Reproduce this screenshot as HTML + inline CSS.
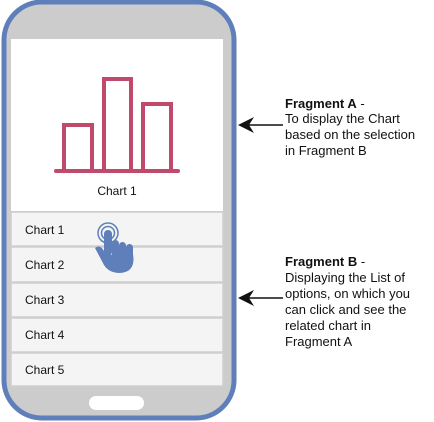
<!DOCTYPE html>
<html><head><style>
body{margin:0;background:#fff;}
svg{display:block;font-family:"Liberation Sans",Arial,sans-serif;}
</style></head><body>
<svg width="434" height="422" viewBox="0 0 434 422" xmlns="http://www.w3.org/2000/svg">
<rect x="4" y="2" width="230" height="416" rx="38" fill="#cccccd" stroke="#5f7fba" stroke-width="5"/>
<rect x="11" y="39" width="212" height="172" fill="#fff"/>
<g fill="none" stroke="#c04a6b" stroke-width="4">
<rect x="64" y="125" width="28" height="46"/>
<rect x="104" y="79" width="27" height="92"/>
<rect x="143" y="104" width="28" height="67"/>
<line x1="56" y1="171" x2="178" y2="171" stroke-linecap="round"/>
</g>
<text x="117" y="195" font-size="12" text-anchor="middle" fill="#111">Chart 1</text>
<g fill="#f4f4f4" stroke="#cfcfcf" stroke-width="1.5">
<rect x="11" y="212" width="212" height="34"/>
<rect x="11" y="247" width="212" height="35"/>
<rect x="11" y="283" width="212" height="34"/>
<rect x="11" y="318" width="212" height="34"/>
<rect x="11" y="353" width="212" height="33"/>
</g>
<g font-size="12" fill="#111">
<text x="25" y="234">Chart 1</text>
<text x="25" y="269">Chart 2</text>
<text x="25" y="304">Chart 3</text>
<text x="25" y="339">Chart 4</text>
<text x="25" y="374">Chart 5</text>
</g>
<rect x="89" y="396" width="55" height="14" rx="7" fill="#fff"/>
<g fill="#5f7fba">
<circle cx="108" cy="233" r="10" fill="none" stroke="#5f7fba" stroke-width="1.5"/>
<circle cx="108" cy="233" r="6.5" fill="none" stroke="#5f7fba" stroke-width="1.5"/>
<rect x="104" y="230" width="8" height="26" rx="4"/>
<rect x="112" y="240" width="7" height="18" rx="3.5"/>
<rect x="119" y="242" width="7" height="16" rx="3.5"/>
<rect x="126" y="244" width="7" height="14" rx="3.5"/>
<path d="M95 248 Q100 244 104 251 L106 255 L133 254 Q136 272 120 273 Q109 273 104 265 Z"/>
</g>
<g stroke="#111" stroke-width="1.5">
<line x1="244" y1="125" x2="283" y2="125"/>
<line x1="244" y1="298" x2="283" y2="298"/>
</g>
<path d="M238 125 L254 117 L249 125 L254 133 Z" fill="#111"/>
<path d="M238 298 L254 290 L249 298 L254 306 Z" fill="#111"/>
<g font-size="13" fill="#111">
<text x="285" y="108"><tspan font-weight="bold">Fragment A</tspan> -</text>
<text x="285" y="123">To display the Chart</text>
<text x="285" y="139">based on the selection</text>
<text x="285" y="155">in Fragment B</text>
<text x="285" y="266"><tspan font-weight="bold">Fragment B</tspan> -</text>
<text x="285" y="282">Displaying the List of</text>
<text x="285" y="298">options, on which you</text>
<text x="285" y="314">can click and see the</text>
<text x="285" y="330">related chart in</text>
<text x="285" y="346">Fragment A</text>
</g>
</svg>
</body></html>
